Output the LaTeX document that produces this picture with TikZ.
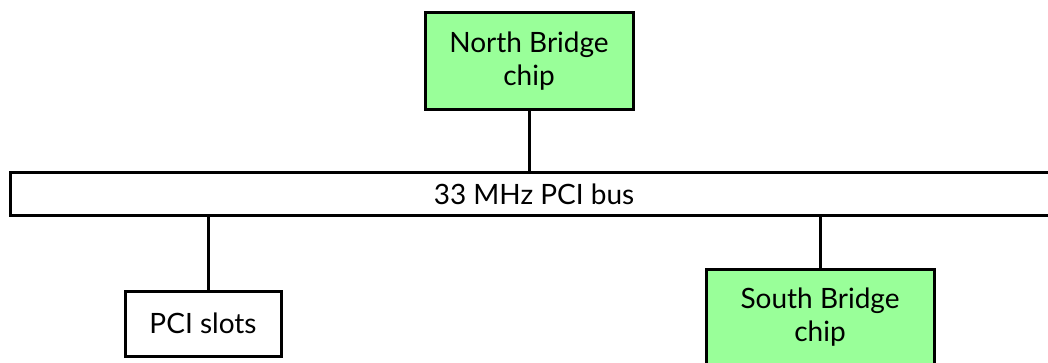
\documentclass[tikz,border=0pt]{standalone}
\usepackage{fontspec}
\setmainfont{Lato}
\usetikzlibrary{positioning, calc}
\definecolor{chipgreen}{RGB}{153,255,153}

\begin{document}
\begin{tikzpicture}[
  x=0.5pt, y=-0.5pt,
  every node/.style={font=\fontsize{14}{16.5}\selectfont},
  unit/.style={rectangle, draw=black, line width=1.5pt, align=center, inner sep=0pt},
  chip/.style={unit, fill=chipgreen},
  link/.style={line width=1.5pt}
]
  \useasboundingbox (0,0) rectangle (1048,363);

  \node[chip, minimum width=104pt, minimum height=48.5pt] (north) at (529,61.5)  {North Bridge\\chip};
  \node[unit, fill=white, minimum width=524pt, minimum height=21.5pt] (bus) at (534,194.5) {33 MHz PCI bus};
  \node[unit, fill=white, minimum width=78pt, minimum height=32.5pt] (slots) at (203,323.5) {PCI slots};
  \node[chip, minimum width=114pt, minimum height=48.5pt] (south) at (820,317.5) {South Bridge\\chip};

  \coordinate (slotstop) at ([xshift=2.5pt]slots.north);

  \draw[link] (north.south) -- (north.south |- bus.north);
  \draw[link] (slotstop) -- (slotstop |- bus.south);
  \draw[link] (south.north) -- (south.north |- bus.south);
\end{tikzpicture}
\end{document}
